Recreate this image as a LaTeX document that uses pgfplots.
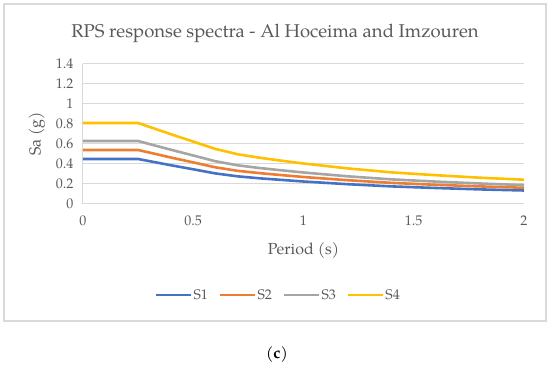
\documentclass[border=0pt]{standalone}
\usepackage{pgfplots}
\pgfplotsset{compat=1.18}
\usepackage{fontspec}
\setmainfont{texgyrepagella}[Extension=.otf,UprightFont=*-regular,BoldFont=*-bold,ItalicFont=*-italic,BoldItalicFont=*-bolditalic]
\definecolor{sA}{HTML}{4472C4}
\definecolor{sB}{HTML}{ED7D31}
\definecolor{sC}{HTML}{A5A5A5}
\definecolor{sD}{HTML}{FFC000}
\definecolor{gridc}{HTML}{D9D9D9}
\definecolor{txt}{HTML}{595959}
\begin{document}
\begin{tikzpicture}[x=1pt,y=1pt]
\useasboundingbox (0,0) rectangle (550,367);
\draw[gridc, line width=1.5pt] (4,363) rectangle (546,46);
\node[text=txt, font=\fontsize{18.5}{20}\selectfont] at (275,334) {RPS response spectra - Al Hoceima and Imzouren};
\node[text=black, font=\fontsize{16}{18}\selectfont] at (277,12) {(\textbf{c})};
\begin{axis}[
  at={(83pt,163pt)}, anchor=south west,
  scale only axis, width=441pt, height=140pt,
  xmin=0, xmax=2, ymin=0, ymax=1.4,
  xtick={0,0.5,1,1.5,2},
  ytick={0,0.2,0.4,0.6,0.8,1,1.2,1.4},
  xticklabels={0,0.5,1,1.5,2},
  yticklabels={0,0.2,0.4,0.6,0.8,1,1.2,1.4},
  axis x line*=bottom, axis y line*=left,
  axis line style={gridc, line width=1pt, -},
  ymajorgrids, grid style={gridc, line width=1pt},
  major tick length=0pt,
  tick label style={text=txt, font=\fontsize{14}{16}\selectfont},
  xticklabel style={yshift=-8pt},
  yticklabel style={xshift=-6pt},
  xlabel={Period (s)}, ylabel={Sa (g)},
  label style={text=txt, font=\fontsize{16}{18}\selectfont},
  xlabel style={at={(axis description cs:0.5,-0.3286)}, anchor=center},
  ylabel style={at={(axis description cs:-0.1043,0.5)}, anchor=center},
  legend columns=4,
  legend style={at={(axis description cs:0.442,-0.65)}, anchor=center, draw=none, fill=none,
    font=\fontsize{14}{16}\selectfont, text=txt,
    nodes={inner sep=1.5pt},
    /tikz/every even column/.append style={column sep=9pt}},
  legend image code/.code={\draw[#1] (0pt,0pt) -- (35pt,0pt);},
  every axis plot/.append style={line width=2.6pt, line join=round},
  clip=false,
]
\addplot[sA] coordinates {(0,0.45)(0.25,0.45)(0.3,0.429)(0.4,0.387)(0.5,0.347)(0.6,0.306)(0.7,0.277)(0.8,0.257)(0.9,0.241)(1.0,0.225)(1.2,0.198)(1.4,0.176)(1.6,0.160)(1.8,0.146)(2.0,0.135)};
\addlegendentry{S1}
\addplot[sB] coordinates {(0,0.54)(0.25,0.54)(0.3,0.515)(0.4,0.464)(0.5,0.416)(0.6,0.367)(0.7,0.332)(0.8,0.309)(0.9,0.289)(1.0,0.27)(1.2,0.238)(1.4,0.211)(1.6,0.192)(1.8,0.176)(2.0,0.162)};
\addlegendentry{S2}
\addplot[sC] coordinates {(0,0.63)(0.25,0.63)(0.3,0.600)(0.4,0.542)(0.5,0.485)(0.6,0.428)(0.7,0.387)(0.8,0.360)(0.9,0.337)(1.0,0.315)(1.2,0.277)(1.4,0.246)(1.6,0.224)(1.8,0.205)(2.0,0.189)};
\addlegendentry{S3}
\addplot[sD] coordinates {(0,0.81)(0.25,0.81)(0.3,0.772)(0.4,0.697)(0.5,0.624)(0.6,0.551)(0.7,0.498)(0.8,0.463)(0.9,0.433)(1.0,0.405)(1.2,0.356)(1.4,0.316)(1.6,0.288)(1.8,0.263)(2.0,0.243)};
\addlegendentry{S4}
\end{axis}
\end{tikzpicture}
\end{document}
